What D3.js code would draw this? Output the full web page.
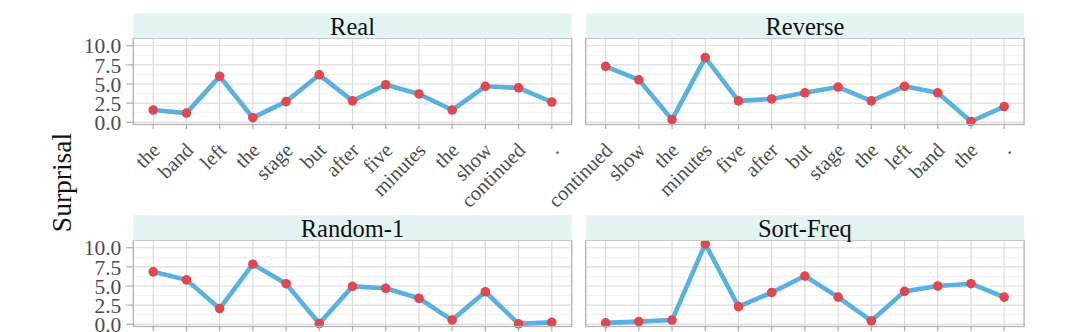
<!DOCTYPE html>
<html>
<head>
<meta charset="utf-8">
<script src="https://cdn.jsdelivr.net/npm/d3@7"></script>
<style>
  html, body { margin: 0; padding: 0; background: #fff; }
  svg { display: block; }
</style>
</head>
<body>
<svg id="chart" width="1076" height="332"></svg>
<script>
// ---- data ----
const panelTitles = ["Real", "Reverse", "Random-1", "Sort-Freq"];
const realWords = ["the","band","left","the","stage","but","after","five","minutes","the","show","continued","."];
const realValues = [1.6, 1.2, 6.0, 0.6, 2.7, 6.2, 2.8, 4.9, 3.7, 1.6, 4.7, 4.5, 2.65];
const reverseWords = ["continued","show","the","minutes","five","after","but","stage","the","left","band","the","."];
const reverseValues = [7.3, 5.55, 0.35, 8.45, 2.8, 3.05, 3.85, 4.6, 2.8, 4.7, 3.85, 0.1, 2.05];
const random1Words = ["w1","w2","w3","w4","w5","w6","w7","w8","w9","w10","w11","w12","w13"];
const random1Values = [6.85, 5.8, 2.05, 7.85, 5.3, 0.1, 4.95, 4.7, 3.4, 0.55, 4.25, 0.05, 0.25];
const sortFreqWords = ["s1","s2","s3","s4","s5","s6","s7","s8","s9","s10","s11","s12","s13"];
const sortFreqValues = [0.18, 0.35, 0.55, 10.5, 2.3, 4.15, 6.3, 3.55, 0.45, 4.3, 5.0, 5.3, 3.55];
const yTicks = [0, 2.5, 5, 7.5, 10];
const yMinor = [1.25, 3.75, 6.25, 8.75];
const yLabel = "Surprisal";

const FONT = "'Liberation Serif', 'Tinos', 'Times New Roman', Times, 'DejaVu Serif', serif";

const panels = [
  { title: panelTitles[0], words: realWords, values: realValues, col: 0, row: 0, showX: true },
  { title: panelTitles[1], words: reverseWords, values: reverseValues, col: 1, row: 0, showX: true },
  { title: panelTitles[2], words: random1Words, values: random1Values, col: 0, row: 1, showX: false },
  { title: panelTitles[3], words: sortFreqWords, values: sortFreqValues, col: 1, row: 1, showX: false }
];

// ---- layout ----
const colX = [133.3, 585.7];
const panelW = 438.4;
const rowY = [38.3, 240.3];   // panel top
const panelH = 86.2;
const stripH = 25;

const svg = d3.select("#chart");

const y = d3.scaleLinear().domain([-0.29, 10.97]).range([panelH, 0]);

const lineColor = "#58B1E0";
const pointColor = "#E0474F";

panels.forEach(p => {
  const x0 = colX[p.col], y0 = rowY[p.row];
  const g = svg.append("g").attr("transform", `translate(${x0},${y0})`);
  const x = d3.scalePoint().domain(d3.range(p.words.length)).range([0, panelW]).padding(0.6);

  // strip
  svg.append("rect")
    .attr("x", x0).attr("y", y0 - stripH)
    .attr("width", panelW).attr("height", stripH)
    .attr("fill", "#E3F4F3");
  svg.append("text")
    .attr("x", x0 + panelW / 2).attr("y", y0 - 3)
    .attr("text-anchor", "middle")
    .attr("font-family", FONT)
    .attr("font-size", 24.5).attr("fill", "#111")
    .text(p.title);

  // panel background
  g.append("rect").attr("width", panelW).attr("height", panelH).attr("fill", "#fff");

  // minor grid
  g.selectAll(".minor").data(yMinor).join("line")
    .attr("x1", 0).attr("x2", panelW)
    .attr("y1", d => y(d)).attr("y2", d => y(d))
    .attr("stroke", "#EDEDED").attr("stroke-width", 0.8);
  // major grid
  g.selectAll(".hmajor").data(yTicks).join("line")
    .attr("x1", 0).attr("x2", panelW)
    .attr("y1", d => y(d)).attr("y2", d => y(d))
    .attr("stroke", "#DCDCDC").attr("stroke-width", 1.2);
  g.selectAll(".vmajor").data(x.domain()).join("line")
    .attr("x1", d => x(d)).attr("x2", d => x(d))
    .attr("y1", 0).attr("y2", panelH)
    .attr("stroke", "#DCDCDC").attr("stroke-width", 1.2);

  // line + points
  const line = d3.line().x((d, i) => x(i)).y(d => y(d));
  g.append("path").datum(p.values)
    .attr("d", line).attr("fill", "none")
    .attr("stroke", lineColor).attr("stroke-width", 4.6)
    .attr("stroke-linejoin", "round");
  g.selectAll(".pt").data(p.values).join("circle")
    .attr("cx", (d, i) => x(i)).attr("cy", d => y(d))
    .attr("r", 4.8).attr("fill", pointColor);

  // border
  g.append("rect").attr("width", panelW).attr("height", panelH)
    .attr("fill", "none").attr("stroke", "#B3B3B3").attr("stroke-width", 1.3);

  // x ticks
  g.selectAll(".xt").data(x.domain()).join("line")
    .attr("x1", d => x(d)).attr("x2", d => x(d))
    .attr("y1", panelH).attr("y2", panelH + 4.5)
    .attr("stroke", "#ABABAB").attr("stroke-width", 1.2);
  if (p.showX) {
    g.selectAll(".xl").data(p.words).join("text")
      .attr("transform", (d, i) => `translate(${x(i) + 8},${panelH + 27}) rotate(-45)`)
      .attr("text-anchor", "end")
      .attr("font-family", FONT)
      .attr("font-size", 20.5).attr("fill", "#4D4D4D")
      .text(d => d);
  }

  // y axis (left column only)
  if (p.col === 0) {
    g.selectAll(".yt").data(yTicks).join("line")
      .attr("x1", -7).attr("x2", 0)
      .attr("y1", d => y(d)).attr("y2", d => y(d))
      .attr("stroke", "#ABABAB").attr("stroke-width", 1.2);
    g.selectAll(".yl").data(yTicks).join("text")
      .attr("x", -12).attr("y", d => y(d))
      .attr("dy", "0.36em")
      .attr("text-anchor", "end")
      .attr("font-family", FONT)
      .attr("font-size", 21.5).attr("fill", "#4D4D4D")
      .text(d => d3.format(".1f")(d));
  }
});

// y axis title
svg.append("text")
  .attr("transform", "translate(71,182.5) rotate(-90)")
  .attr("text-anchor", "middle")
  .attr("font-family", FONT)
  .attr("font-size", 27.5).attr("fill", "#111")
  .text(yLabel);
</script>
</body>
</html>
